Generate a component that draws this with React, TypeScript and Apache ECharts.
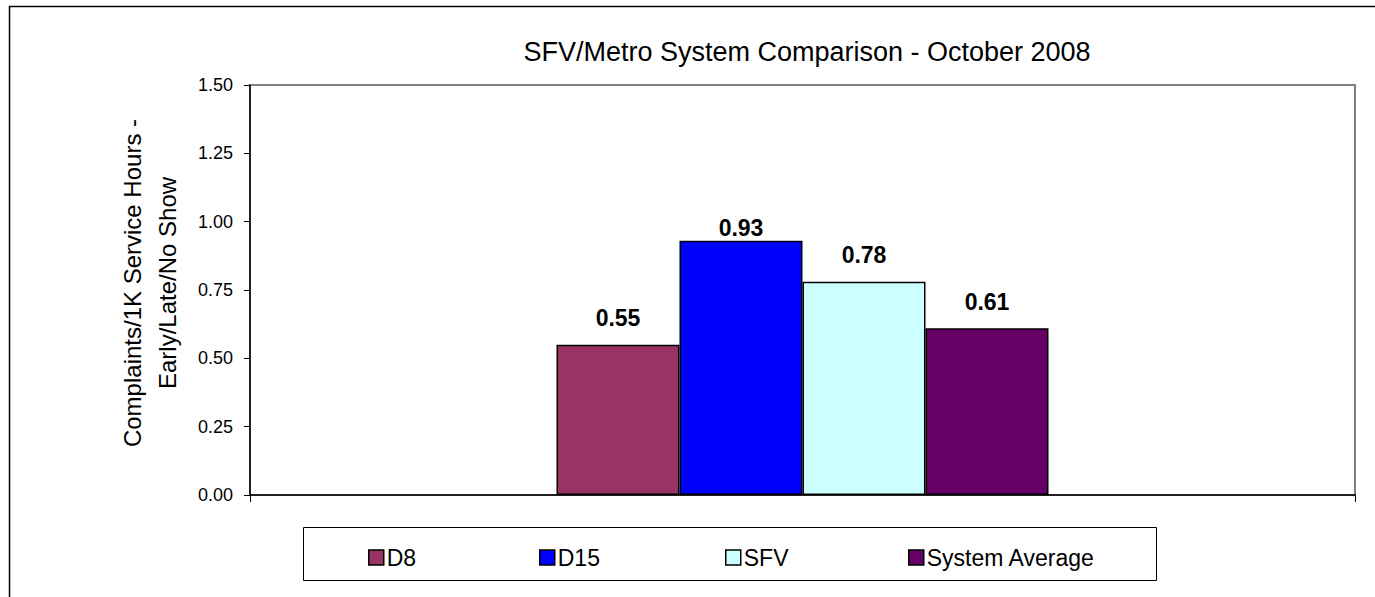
import React, { useEffect, useRef } from "react";
import * as echarts from "echarts";

const title = "SFV/Metro System Comparison - October 2008";
const yAxisTitle = "Complaints/1K Service Hours -\nEarly/Late/No Show";
const categories = [""];
const seriesNames = ["D8", "D15", "SFV", "System Average"];
const d8Values = [0.55];
const d15Values = [0.93];
const sfvValues = [0.78];
const systemAverageValues = [0.61];
const yMin = 0;
const yMax = 1.5;
const yStep = 0.25;

const FONT = "Liberation Sans";
const colors = ["#993366", "#0000FF", "#CCFFFF", "#660066"];
const labelDistances = [15, 1, 15, 15];
const legendLefts = [363, 534, 720, 903];

export default function App() {
  const ref = useRef<HTMLDivElement>(null);
  useEffect(() => {
    if (!ref.current) return;
    const chart = echarts.init(ref.current, null, { renderer: "svg" });
    const values = [d8Values, d15Values, sfvValues, systemAverageValues];
    const series = seriesNames.map((name, i) => ({
      name,
      type: "bar",
      data: values[i],
      barWidth: 123,
      barGap: "0%",
      itemStyle: { color: colors[i], borderColor: "#000", borderWidth: 1.5 },
      label: {
        show: true,
        position: "top",
        distance: labelDistances[i],
        formatter: (p: any) => p.value.toFixed(2),
        fontFamily: FONT,
        fontWeight: "bold",
        fontSize: 23,
        color: "#000",
      },
    }));
    const legends = seriesNames.map((name, i) => ({
      data: [name],
      left: legendLefts[i],
      top: 541,
      orient: "horizontal",
      icon: "rect",
      itemWidth: 15,
      itemHeight: 15,
      itemGap: 0,
      selectedMode: false,
      itemStyle: { borderColor: "#000", borderWidth: 1.5 },
      textStyle: { fontFamily: FONT, fontSize: 23, color: "#000", padding: [0, 0, 0, -2] },
    }));
    chart.setOption({
      animation: false,
      backgroundColor: "#fff",
      title: {
        text: title,
        left: 802,
        textAlign: "center",
        top: 33,
        textStyle: { fontFamily: FONT, fontSize: 27, fontWeight: "normal", color: "#000" },
      },
      legend: legends,
      grid: {
        left: 250,
        top: 85,
        width: 1105,
        height: 410,
        show: true,
        borderColor: "#808080",
        borderWidth: 2,
        backgroundColor: "#fff",
      },
      xAxis: {
        type: "category",
        data: categories,
        axisLine: { show: true, lineStyle: { color: "#000", width: 1.5 } },
        axisTick: { show: true, alignWithLabel: false, length: 7, lineStyle: { color: "#000", width: 1 } },
        axisLabel: { show: false },
        splitLine: { show: false },
      },
      yAxis: {
        type: "value",
        min: yMin,
        max: yMax,
        interval: yStep,
        axisLine: { show: true, lineStyle: { color: "#000", width: 1.5 } },
        axisTick: { show: true, length: 6, lineStyle: { color: "#000", width: 1 } },
        axisLabel: {
          formatter: (v: number) => v.toFixed(2),
          fontFamily: FONT,
          fontSize: 18,
          color: "#000",
          margin: 17,
        },
        splitLine: { show: false },
      },
      graphic: [
        {
          type: "rect",
          silent: true,
          z: -10,
          shape: { x: 9.5, y: 6.5, width: 1500, height: 800 },
          style: { fill: "none", stroke: "#000", lineWidth: 1.5 },
        },
        {
          type: "rect",
          silent: true,
          shape: { x: 303.5, y: 527.5, width: 853, height: 53 },
          style: { fill: "none", stroke: "#000", lineWidth: 1 },
        },
        {
          type: "text",
          silent: true,
          x: 150,
          y: 283,
          rotation: Math.PI / 2,
          style: {
            text: yAxisTitle,
            fontFamily: FONT,
            fontSize: 24,
            lineHeight: 35,
            fill: "#000",
            align: "center",
            verticalAlign: "middle",
          },
        },
      ],
      series,
    });
    return () => chart.dispose();
  }, []);
  return (
    <div
      ref={ref}
      style={{ position: "absolute", left: 0, top: 0, width: 1375, height: 597 }}
    />
  );
}
